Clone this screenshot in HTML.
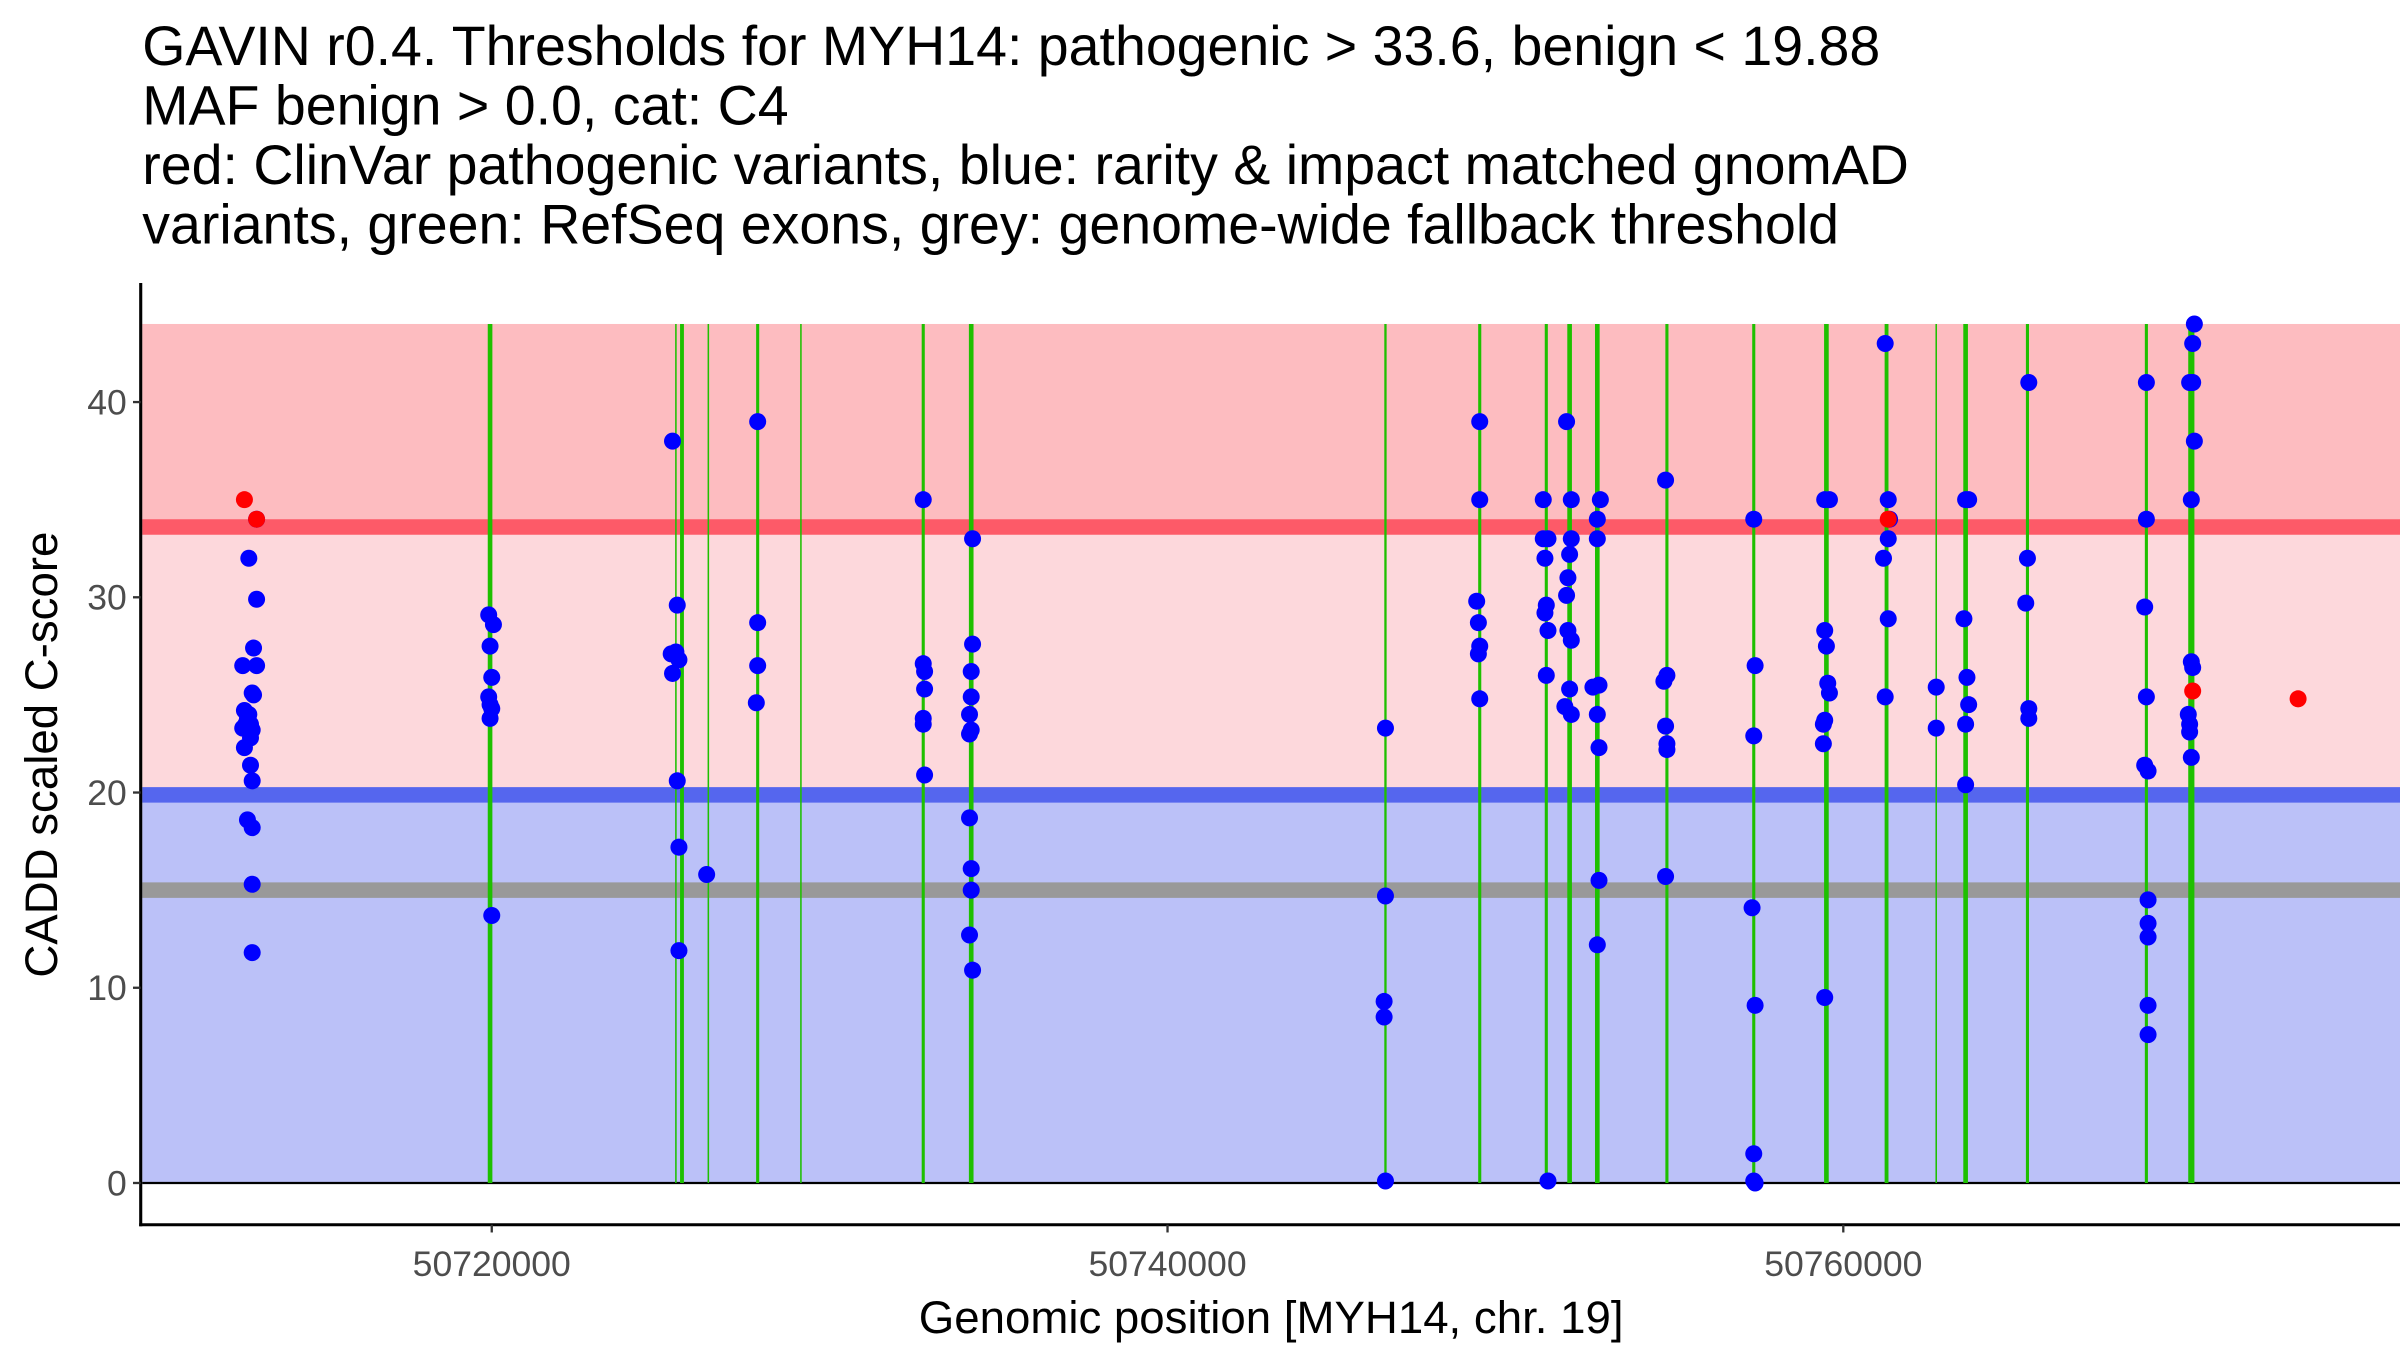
<!DOCTYPE html>
<html><head><meta charset="utf-8"><style>
html,body{margin:0;padding:0;background:#fff;}
svg{display:block;font-family:"Liberation Sans",Arial,sans-serif;}
</style></head><body>
<svg id="chart" width="2400" height="1350" viewBox="0 0 1552 873" preserveAspectRatio="none" xmlns="http://www.w3.org/2000/svg">
<g font-size="35.9" fill="#000">
<text x="92" y="42">GAVIN r0.4. Thresholds for MYH14: pathogenic &gt; 33.6, benign &lt; 19.88</text>
<text x="92" y="80.5">MAF benign &gt; 0.0, cat: C4</text>
<text x="92" y="119">red: ClinVar pathogenic variants, blue: rarity &amp; impact matched gnomAD</text>
<text x="92" y="157.5">variants, green: RefSeq exons, grey: genome-wide fallback threshold</text>
</g>
<g id="bands"></g>
<g id="exons"></g>
<g id="points"></g>
<g id="axes"></g>
<text transform="translate(37,488) rotate(-90)" text-anchor="middle" font-size="29.5">CADD scaled C-score</text>
<text x="822" y="862" text-anchor="middle" font-size="29.5">Genomic position [MYH14, chr. 19]</text>
</svg>
<script>
// thresholds
const pathogenicThreshold = 33.6;
const benignThreshold = 19.88;
const fallbackThreshold = 15;
const bandTop = 44;
// exon positions (kb) and drawn widths
const exonPos = [50719.95,50725.45,50725.63,50726.41,50727.87,50729.15,50732.77,50734.19,50746.45,50749.24,50751.21,50751.90,50752.72,50754.78,50757.35,50759.50,50761.28,50762.75,50763.62,50765.45,50768.97,50770.30];
const exonW = [3,1,2.5,1,2,1,2,3,1.5,2,2,3,3,2,2,3,2.5,1,3,2,2,4];
// gnomAD (blue) variants: position (kb), score
const bluePos = [50713.04,50712.81,50713.04,50712.63,50712.95,50713.04,50712.91,50712.95,50712.68,50712.77,50712.63,50712.86,50712.91,50712.68,50712.86,50712.86,50712.91,50712.77,50712.91,50712.91,50712.91,50712.72,50712.81,
50719.91,50720.05,50719.95,50720.00,50719.91,50719.95,50720.00,50719.95,50720.00,
50725.35,50725.49,50725.31,50725.45,50725.54,50725.35,50725.49,50725.54,50725.54,50726.36,
50727.87,50727.87,50727.87,50727.83,
50732.77,50732.77,50732.81,50732.81,50732.77,50732.77,50732.81,
50734.23,50734.23,50734.19,50734.19,50734.14,50734.19,50734.14,50734.14,50734.19,50734.19,50734.14,50734.23,
50746.45,50746.45,50746.41,50746.41,50746.45,
50749.24,50749.24,50749.15,50749.20,50749.24,50749.20,50749.24,
50751.12,50751.81,50751.12,50751.26,50751.17,50751.21,50751.17,50751.26,50751.95,50751.95,50751.90,50751.85,50751.81,50751.85,50751.95,50751.21,50751.90,50751.76,50751.95,50751.26,
50752.81,50752.72,50752.72,50752.77,50752.59,50752.72,50752.77,50752.77,50752.72,
50754.74,50754.78,50754.69,50754.74,50754.78,50754.78,50754.74,
50757.35,50757.39,50757.35,50757.30,50757.39,50757.35,50757.35,50757.39,
50759.45,50759.59,50759.45,50759.50,50759.54,50759.59,50759.45,50759.41,50759.41,50759.45,
50761.24,50761.33,50761.37,50761.33,50761.19,50761.33,50761.24,
50762.75,50762.75,
50763.62,50763.71,50763.57,50763.66,50763.71,50763.62,50763.62,
50765.49,50765.45,50765.40,50765.49,50765.49,
50768.97,50768.97,50768.92,50768.97,50768.92,50769.02,50769.02,50769.02,50769.02,50769.02,50769.02,
50770.39,50770.34,50770.25,50770.34,50770.39,50770.30,50770.30,50770.34,50770.21,50770.25,50770.25,50770.30];
const blueScore = [34,32,29.9,26.5,27.4,26.5,25.1,25,24.2,23.8,23.3,23.5,23.2,22.3,22.8,21.4,20.6,18.6,18.2,15.3,11.8,23.5,24,
29.1,28.6,27.5,25.9,24.9,24.5,24.3,23.8,13.7,
38,29.6,27.1,27.2,26.8,26.1,20.6,17.2,11.9,15.8,
39,28.7,26.5,24.6,
35,26.6,26.2,25.3,23.8,23.5,20.9,
33,27.6,26.2,24.9,24,23.2,23,18.7,16.1,15,12.7,10.9,
23.3,14.7,9.3,8.5,0.1,
39,35,29.8,28.7,27.5,27.1,24.8,
35,39,33,33,32,29.6,29.2,28.3,35,33,32.2,31,30.1,28.3,27.8,26,25.3,24.4,24,0.1,
35,34,33,25.5,25.4,24,22.3,15.5,12.2,
36,26,25.7,23.4,22.5,22.2,15.7,
34,26.5,22.9,14.1,9.1,1.5,0.1,0,
35,35,28.3,27.5,25.6,25.1,23.7,23.5,22.5,9.5,
43,35,34,33,32,28.9,24.9,
25.4,23.3,
35,35,28.9,25.9,24.5,23.5,20.4,
41,32,29.7,24.3,23.8,
41,34,29.5,24.9,21.4,21.1,14.5,13.3,12.6,9.1,7.6,
44,43,41,41,38,35,26.7,26.4,24,23.5,23.1,21.8];
// ClinVar (red) pathogenic variants
const redPos = [50712.68,50713.04,50761.33,50770.34,50773.46];
const redScore = [35,34,34,25.2,24.8];
// axis ticks
const yTicks = [0,10,20,30,40];
const xTicks = [50720000,50740000,50760000];

const L=91,R=1552,T=183,B=792;
const y = v => 765 - v*12.625;
const x = kb => 318 + (kb*1000 - 50720000)*437/20000;
const NS="http://www.w3.org/2000/svg";
function mk(tag, attrs, parent){const e=document.createElementNS(NS,tag);for(const k in attrs)e.setAttribute(k,attrs[k]);parent.appendChild(e);return e;}
const bands=document.getElementById('bands');
let e;
e=mk('rect',{x:L+1,y:y(bandTop),width:R-L-1,height:y(pathogenicThreshold)-y(bandTop),fill:'#fdbcc0'},bands);


e=mk('rect',{x:L+1,y:y(pathogenicThreshold),width:R-L-1,height:y(benignThreshold)-y(pathogenicThreshold),fill:'#fdd8dc'},bands);


e=mk('rect',{x:L+1,y:y(benignThreshold),width:R-L-1,height:y(0)-y(benignThreshold),fill:'#bbc1f8'},bands);


e=mk('line',{x1:L+1,x2:R,y1:y(pathogenicThreshold),y2:y(pathogenicThreshold),stroke:'#fd5a68','stroke-width':10},bands);


e=mk('line',{x1:L+1,x2:R,y1:y(benignThreshold),y2:y(benignThreshold),stroke:'#5566ee','stroke-width':10},bands);


e=mk('line',{x1:L+1,x2:R,y1:y(fallbackThreshold),y2:y(fallbackThreshold),stroke:'#999999','stroke-width':10},bands);


e=mk('line',{x1:L+1,x2:R,y1:y(0),y2:y(0),stroke:'#000','stroke-width':1.5},bands);



const ex=document.getElementById('exons');
exonPos.forEach((p,i)=>{
  const l=mk('line',{x1:x(p),x2:x(p),y1:y(bandTop),y2:y(0),stroke:'#1ec000','stroke-width':exonW[i]},ex);
  
  
});
const pts=document.getElementById('points');
bluePos.forEach((p,i)=>{
  const c=mk('circle',{cx:x(p),cy:y(blueScore[i]),r:5.5,fill:'#0000ff'},pts);
  
  
});
redPos.forEach((p,i)=>{
  const c=mk('circle',{cx:x(p),cy:y(redScore[i]),r:5.5,fill:'#ff0000'},pts);
  
  
});
const ax=document.getElementById('axes');
e=mk('line',{x1:L,x2:L,y1:T,y2:B+1,stroke:'#000','stroke-width':2},ax);


e=mk('line',{x1:L-1,x2:R,y1:B,y2:B,stroke:'#000','stroke-width':2},ax);


yTicks.forEach(v=>{
  const t=mk('line',{x1:L-5,x2:L,y1:y(v),y2:y(v),stroke:'#333','stroke-width':1.5},ax);
  
  
  const s=mk('text',{x:L-9,y:y(v)+8,'text-anchor':'end','font-size':23,fill:'#4d4d4d'},ax);
  s.textContent=v;
  
  
});
xTicks.forEach(v=>{
  const px=x(v/1000);
  const t=mk('line',{x1:px,x2:px,y1:B,y2:B+5,stroke:'#333','stroke-width':1.5},ax);
  
  
  const s=mk('text',{x:px,y:B+33,'text-anchor':'middle','font-size':23,fill:'#4d4d4d'},ax);
  s.textContent=v;
  
  
});
</script>
</body></html>
